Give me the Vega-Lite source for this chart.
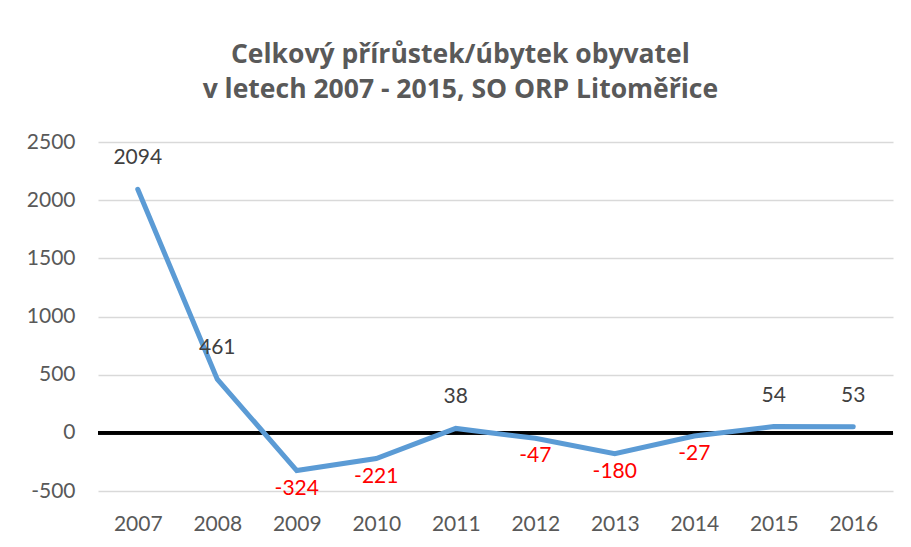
{
  "$schema": "https://vega.github.io/schema/vega-lite/v6.json",
  "width": 795,
  "height": 349,
  "autosize": {"type": "none"},
  "padding": {"left": 98, "top": 142, "right": 18, "bottom": 56},
  "background": "white",
  "title": {
    "text": ["Celkový přírůstek/úbytek obyvatel", "v letech 2007 - 2015, SO ORP Litoměřice"],
    "font": "Open Sans",
    "fontSize": 26.5,
    "fontWeight": "bold",
    "color": "#595959",
    "anchor": "middle",
    "frame": "bounds",
    "lineHeight": 35,
    "offset": 28
  },
  "data": {
    "values": [
      {"year": "2007", "value": 2094},
      {"year": "2008", "value": 461},
      {"year": "2009", "value": -324},
      {"year": "2010", "value": -221},
      {"year": "2011", "value": 38},
      {"year": "2012", "value": -47},
      {"year": "2013", "value": -180},
      {"year": "2014", "value": -27},
      {"year": "2015", "value": 54},
      {"year": "2016", "value": 53}
    ]
  },
  "encoding": {
    "x": {
      "field": "year",
      "type": "ordinal",
      "title": null,
      "axis": {"labelAngle": 0, "domain": false, "ticks": false, "labelPadding": 22, "labelFont": "Lato", "labelFontSize": 21, "labelColor": "#595959"}
    },
    "y": {
      "field": "value",
      "type": "quantitative",
      "title": null,
      "scale": {"domain": [-500, 2500], "nice": false, "zero": false},
      "axis": {"values": [-500, 0, 500, 1000, 1500, 2000, 2500], "labelExpr": "'' + datum.value", "domain": false, "ticks": false, "labelPadding": 23, "labelFont": "Lato", "labelFontSize": 21, "labelColor": "#595959", "gridColor": "#D9D9D9", "gridWidth": 1.3}
    }
  },
  "layer": [
    {
      "mark": {"type": "rule", "color": "black", "strokeWidth": 3},
      "encoding": {"y": {"datum": 0}, "x": {"value": 0}, "x2": {"value": 795}}
    },
    {
      "mark": {"type": "line", "color": "#5B9BD5", "strokeWidth": 5, "strokeCap": "round"}
    },
    {
      "transform": [{"filter": "datum.value >= 0"}],
      "mark": {"type": "text", "font": "Lato", "fontSize": 21, "color": "#404040", "baseline": "middle", "dy": -31},
      "encoding": {"text": {"field": "value", "type": "nominal"}}
    },
    {
      "transform": [{"filter": "datum.value < 0"}],
      "mark": {"type": "text", "font": "Lato", "fontSize": 21, "color": "#FF0000", "baseline": "middle", "dy": 18},
      "encoding": {"text": {"field": "value", "type": "nominal"}}
    }
  ],
  "config": {"view": {"stroke": null}}
}
